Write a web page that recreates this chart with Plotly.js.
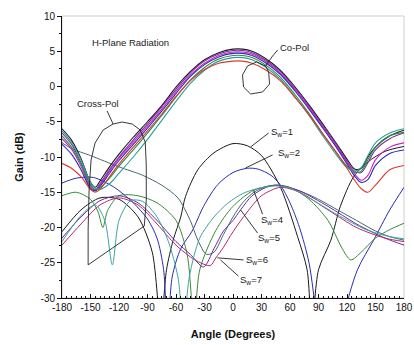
<!DOCTYPE html>
<html>
<head>
<meta charset="utf-8">
<script src="https://cdn.plot.ly/plotly-3.0.1.min.js"></script>
<style>html,body{margin:0;padding:0;background:#fff;}#chart{width:414px;height:345px;}</style>
</head>
<body>
<div id="chart"></div>
<script>
// ---------- Co-polarisation curves (shared angle grid) ----------
var coAngle = [-180,-170,-160,-150,-145,-140,-130,-120,-105,-90,-75,-60,-45,-30,-15,0,10,20,35,50,65,80,95,110,120,128,135,142,150,165,180];
var co1 = [-6.0,-7.6,-10.2,-13.6,-14.3,-13.4,-11.4,-9.6,-7.2,-5.0,-2.7,-0.1,2.1,3.8,4.8,5.3,5.3,5.0,3.9,2.3,0.0,-2.6,-5.4,-8.3,-10.3,-11.7,-11.6,-10.0,-8.6,-7.0,-6.2];
var co2 = [-6.6,-8.2,-10.8,-14.0,-14.6,-13.8,-11.8,-10.0,-7.6,-5.3,-2.9,-0.4,1.9,3.6,4.6,5.1,5.1,4.8,3.7,2.1,-0.2,-2.8,-5.6,-8.5,-10.6,-12.0,-12.2,-10.8,-9.0,-7.4,-6.6];
var co3 = [-7.4,-8.9,-11.3,-14.3,-14.7,-14.0,-12.0,-10.2,-7.9,-5.6,-3.2,-0.7,1.6,3.3,4.4,4.9,4.9,4.6,3.5,1.9,-0.4,-3.0,-5.8,-8.7,-10.8,-12.4,-13.3,-12.6,-10.4,-8.6,-8.0];
var co4 = [-8.2,-9.6,-11.8,-14.5,-14.8,-14.2,-12.3,-10.5,-8.2,-5.9,-3.5,-1.0,1.4,3.1,4.2,4.7,4.7,4.4,3.3,1.7,-0.6,-3.2,-6.0,-8.9,-11.0,-12.7,-13.6,-13.2,-11.2,-9.5,-9.0];
var co5 = [-7.0,-8.6,-11.0,-14.0,-14.6,-14.4,-13.0,-11.3,-9.0,-6.6,-4.1,-1.5,0.9,2.7,3.9,4.4,4.4,4.1,3.0,1.3,-1.1,-3.8,-6.8,-9.6,-11.3,-12.2,-12.0,-10.4,-8.6,-7.0,-6.5];
var co6 = [-6.3,-7.9,-10.4,-13.6,-14.4,-14.6,-13.8,-12.3,-10.0,-7.5,-4.8,-2.1,0.4,2.3,3.6,4.1,4.1,3.8,2.7,1.0,-1.4,-4.1,-7.1,-9.9,-11.5,-12.0,-11.5,-9.8,-8.0,-6.6,-6.0];
var co7 = [-10.9,-11.6,-12.8,-14.6,-15.0,-14.6,-12.8,-11.0,-8.6,-6.3,-3.9,-1.4,0.8,2.4,3.3,3.6,3.6,3.3,2.3,0.8,-1.5,-4.0,-6.8,-9.6,-11.6,-13.3,-14.5,-15.0,-14.0,-11.8,-11.2];
var coColors = ['#1a1a1a','#7a2ea0','#d21fc4','#2b2bb8','#2e8a3e','#2c9c9c','#d83a2a'];

// ---------- Cross-polarisation curves (S_w = 1..7) ----------
var xp1Angle = [-180,-160,-140,-120,-100,-85,-76,-70,-63,-55,-50,-37,-20,0,15,30,50,68,78,83,90,103,113,127,142,160,180];
var xp1Gain  = [-20.6,-17.5,-15.8,-16.0,-18.5,-23.5,-34,-26,-21.8,-18.5,-15.6,-11.8,-9.4,-8.1,-8.4,-9.8,-14.3,-21.3,-26,-34,-26,-21.8,-17.0,-12.8,-10.7,-9.2,-8.5];
var xp2Angle = [-180,-165,-147,-125,-105,-90,-80,-73,-69,-64,-55,-43,-31,-16,0,15,26,40,50,60,70,80,88,95,105,116,131,148,165,180];
var xp2Gain  = [-13.7,-13.0,-12.9,-14.3,-16.5,-18.8,-21.5,-26,-35,-27,-23,-20.5,-17.0,-13.9,-12.2,-11.6,-11.7,-12.6,-14.0,-16.5,-20.0,-25.0,-33,-42,-45,-33,-26,-21.8,-17.5,-14.3];
var xp3Angle = [-180,-170,-150,-120,-95,-75,-58,-45,-37,-28,-20,-10,0,10,22,35,45,55,70,90,110,130,150,165,180];
var xp3Gain  = [-8.0,-8.8,-9.8,-11.4,-12.6,-14.0,-15.8,-19.0,-21.8,-23.8,-23.5,-21.0,-18.5,-16.5,-15.0,-14.2,-14.0,-14.2,-14.8,-16.0,-17.5,-19.0,-20.5,-21.3,-21.8];
var xp4Angle = [-180,-165,-150,-142,-137,-132,-120,-100,-80,-60,-48,-41,-35,-18,0,22,45,60,80,100,115,124,135,150,165,180];
var xp4Gain  = [-15.5,-15.0,-16.0,-17.8,-20.0,-17.6,-15.5,-15.5,-16.5,-19.0,-24.0,-34,-26,-20.4,-17.0,-14.7,-14.0,-14.3,-16.0,-19.0,-23.0,-24.6,-23.5,-21.5,-20.3,-19.4];
var xp5Angle = [-180,-160,-140,-120,-100,-80,-60,-45,-31,-20,-10,0,8,20,35,45,55,70,100,130,160,180];
var xp5Gain  = [-21.5,-18.5,-16.2,-15.5,-16.5,-19.0,-22.0,-23.8,-25.6,-23.0,-20.5,-19.0,-17.5,-15.5,-14.3,-14.0,-14.2,-14.8,-17.0,-19.5,-21.5,-22.5];
var xp6Angle = [-180,-160,-140,-120,-100,-80,-60,-40,-24,-18,-10,0,15,30,50,70,100,130,160,180];
var xp6Gain  = [-22.5,-19.5,-16.8,-15.8,-16.8,-19.5,-22.5,-24.6,-25.4,-24.3,-22.8,-20.6,-17.8,-15.5,-14.3,-15.0,-17.5,-20.0,-21.5,-22.0];
var xp7Angle = [-180,-160,-145,-135,-127,-120,-108,-95,-80,-68,-58,-52,-46,-35,-20,-5,10,25,45,60,80,110,140,165,180];
var xp7Gain  = [-22.0,-18.3,-16.8,-19.0,-25.3,-19.0,-16.2,-16.3,-18.5,-22.0,-27.0,-34,-27.0,-21.5,-18.5,-16.5,-15.2,-14.5,-14.1,-14.4,-15.8,-18.2,-20.3,-21.3,-21.6];
var xpColors = ['#1a1a1a','#2a2ab8','#4a6670','#3a8a3a','#6a2aa0','#b02a6a','#3aa4a4'];

// ---------- Axis ticks ----------
var xTickVals = [-180,-150,-120,-90,-60,-30,0,30,60,90,120,150,180];
var xTickText = ['-180','-150','-120','-90','-60','-30','0','30','60','90','120','150','180'];
var yTickVals = [-30,-25,-20,-15,-10,-5,0,5,10];
var yTickText = ['-30','-25','-20','-15','-10','-5','0','5','10'];

var coSeries = [co1,co2,co3,co4,co5,co6,co7];
var xpSeries = [[xp1Angle,xp1Gain],[xp2Angle,xp2Gain],[xp3Angle,xp3Gain],[xp4Angle,xp4Gain],[xp5Angle,xp5Gain],[xp6Angle,xp6Gain],[xp7Angle,xp7Gain]];

var traces = [];
xpSeries.forEach(function(s, i){
  traces.push({x:s[0], y:s[1], type:'scatter', mode:'lines', name:'Cross S_w='+(i+1),
    line:{color:xpColors[i], width:1, shape:'spline', smoothing:0.8}, hoverinfo:'skip'});
});
coSeries.forEach(function(s, i){
  traces.push({x:coAngle, y:s, type:'scatter', mode:'lines', name:'Co S_w='+(i+1),
    line:{color:coColors[i], width:1.1, shape:'spline', smoothing:0.9}, hoverinfo:'skip'});
});

var lc = '#222';
function seg(x0,y0,x1,y1){return {type:'line',xref:'x',yref:'y',x0:x0,y0:y0,x1:x1,y1:y1,line:{color:lc,width:0.9}};}

var shapes = [
  {type:'rect',xref:'paper',yref:'paper',x0:0,y0:0,x1:1,y1:1,line:{color:'#cfcfcf',width:1},layer:'below'},
  // Cross-Pol loop
  {type:'path',xref:'x',yref:'y',line:{color:lc,width:0.9},
   path:'M -126.2,-5.32 L -116.7,-5.04 L -106.1,-5.32 L -97.7,-6.17 L -92.4,-7.87 L -91.3,-11.13 L -91.3,-16.1 L -93.4,-19.79 L -152.5,-25.3 L -152.5,-20.35 L -151.5,-14.68 L -149.4,-10.43 L -145.2,-8.01 L -136.7,-6.17 Z'},
  seg(-132.5,-3.48,-126.2,-5.32),
  // Co-Pol loop
  {type:'path',xref:'x',yref:'y',line:{color:lc,width:0.9},
   path:'M 34.3,2.91 L 37.5,2.06 L 38.5,0.35 L 31.1,-0.78 L 18.5,-1.06 L 11.1,-0.07 L 10.0,1.63 L 15.3,2.91 L 24.8,3.48 Z'},
  seg(34.3,2.91,41.7,4.33), seg(41.7,4.33,47.0,5.18),
  // S_w leaders
  seg(37.5,-6.6,18.5,-8.58),
  seg(41.7,-9.7,13.2,-11.56),
  seg(31.1,-18.1,21.6,-14.68),
  seg(25.9,-20.8,7.9,-17.5),
  seg(11.1,-24.6,-16.4,-24.3),
  seg(5.8,-26.9,-13.2,-24.6)
];

var af = {family:'Arial, "Liberation Sans", sans-serif', size:9.5, color:'#222'};
function ann(x,y,t,xa){return {x:x,y:y,xref:'x',yref:'y',text:t,showarrow:false,xanchor:xa||'left',yanchor:'middle',font:af};}
var annotations = [
  ann(-108,6.2,'H-Plane Radiation','center'),
  ann(47.5,5.6,'Co-Pol'),
  ann(-142.5,-2.34,'Cross-Pol','center'),
  ann(37.5,-6.45,'S<sub>w</sub>=1'),
  ann(44.9,-9.43,'S<sub>w</sub>=2'),
  ann(26.9,-18.94,'S<sub>w</sub>=4'),
  ann(23.8,-21.5,'S<sub>w</sub>=5'),
  ann(11.1,-24.6,'S<sub>w</sub>=6'),
  ann(4.8,-27.45,'S<sub>w</sub>=7')
];

var tf = {family:'Arial, "Liberation Sans", sans-serif', size:10, color:'#111'};
var layout = {
  width:414, height:345,
  margin:{l:62, r:10, t:16, b:47},
  paper_bgcolor:'#fff', plot_bgcolor:'#fff',
  showlegend:false,
  font:tf,
  xaxis:{range:[-180,180], tickmode:'array', tickvals:xTickVals, ticktext:xTickText, tickangle:0,
    ticks:'inside', ticklen:4, tickcolor:'#111', showline:true, linecolor:'#111', linewidth:1,
    showgrid:false, zeroline:false, tickfont:tf,
    minor:{ticks:'inside', ticklen:2, dtick:5, tick0:0, tickcolor:'#111', showgrid:false},
    title:{text:'<b>Angle (Degrees)</b>', font:{family:'Arial, "Liberation Sans", sans-serif', size:11, color:'#111'}, standoff:18}},
  yaxis:{range:[-30,10], tickmode:'array', tickvals:yTickVals, ticktext:yTickText,
    ticks:'outside', ticklen:4, tickcolor:'#111', showline:true, linecolor:'#111', linewidth:1,
    showgrid:false, zeroline:false, tickfont:tf,
    minor:{ticks:'outside', ticklen:2, dtick:2.5, tick0:0, tickcolor:'#111', showgrid:false},
    title:{text:'<b>Gain (dB)</b>', font:{family:'Arial, "Liberation Sans", sans-serif', size:11, color:'#111'}, standoff:14}},
  shapes:shapes,
  annotations:annotations
};
Plotly.newPlot('chart', traces, layout, {staticPlot:true, displayModeBar:false});
</script>
</body>
</html>
